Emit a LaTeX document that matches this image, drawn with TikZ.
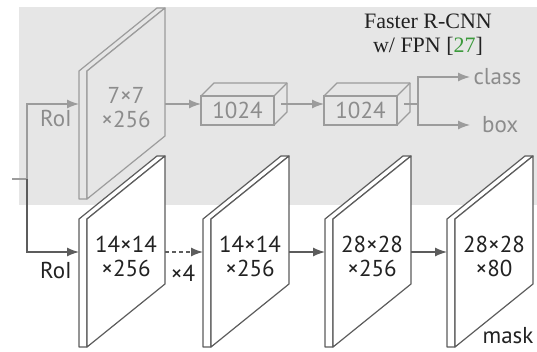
\documentclass[tikz,border=0pt]{standalone}
\usepackage{fontspec}
\setmainfont{Liberation Serif}
\setsansfont{PT Sans}
\usetikzlibrary{arrows.meta}

\definecolor{bggray}{HTML}{E6E6E6}
\definecolor{fcgray}{HTML}{9C9C9C}
\definecolor{fctext}{HTML}{8C8C8C}
\definecolor{maskline}{HTML}{5C5C5C}
\definecolor{masktext}{HTML}{222222}
\definecolor{citegreen}{HTML}{3C9A3C}

\tikzset{
  lbl/.style={font=\sffamily\fontsize{23}{24}\selectfont, align=center},
  fctxt/.style={lbl, text=fctext},
  masktxt/.style={lbl, text=masktext},
  fcslab/.style={draw=fcgray, fill=bggray, line width=1.2pt, line join=round},
  maskslab/.style={draw=maskline, fill=white, line width=1.2pt, line join=round},
  fcline/.style={draw=fcgray, line width=1.3pt},
  fcarrow/.style={fcline, ->},
  maskarrow/.style={draw=maskline, line width=1.3pt, ->},
}

% feature map slab: name, left x, top y, slab style, text style, text
\newcommand{\featmap}[6]{%
  \draw[#4] (#2,#3+128) -- (#2-8,#3+128) -- (#2-8,#3) -- (#2+70,#3-63)
    -- (#2+78,#3-63) -- (#2,#3) -- cycle;
  \draw[#4] (#2,#3) -- (#2+78,#3-63) -- (#2+78,#3+65) -- (#2,#3+128) -- cycle;
  \node[#5] (#1) at (#2+39,#3+37) {#6};
  \coordinate (#1-in) at (#2-8,#3+33);
  \coordinate (#1-out) at (#2+78,#3+33);
}

% fc layer box: name, left x
\newcommand{\fcbox}[2]{%
  \draw[fcline] (#2,96) rectangle (#2+73,125);
  \draw[fcline, line join=round] (#2,96) -- (#2+13,83) -- (#2+86,83) -- (#2+86,112) -- (#2+73,125);
  \draw[fcline] (#2+73,96) -- (#2+86,83);
  \node[fctxt] (#1) at (#2+36.5,110.5) {1024};
  \coordinate (#1-in) at (#2,104);
  \coordinate (#1-out) at (#2+80,104);
}

\begin{document}
\begin{tikzpicture}[x={(1pt,0pt)}, y={(0pt,-1pt)}, >={Latex[length=12pt,width=9pt]}]
  \useasboundingbox (0,0) rectangle (537,351);
  \fill[bggray] (19,7) rectangle (537,205);

  % box head (Faster R-CNN)
  \featmap{roifeat}{87}{71}{fcslab}{fctxt}{7×7\\×256}
  \fcbox{fcA}{201}
  \fcbox{fcB}{324}
  \draw[fcarrow] (roifeat-out) -- (fcA-in);
  \draw[fcarrow] (fcA-out) -- (fcB-in);

  \coordinate (fork) at (418,104);
  \node[fctxt, anchor=west] (cls) at (470,77) {class};
  \node[fctxt, anchor=west, inner xsep=12pt] (bbox) at (470,125) {box};
  \draw[fcline] (fcB-out) -- (fork);
  \draw[fcarrow] (fork) |- (cls.west);
  \draw[fcarrow] (fork) |- (bbox.west);

  \node[font=\fontsize{22}{24}\selectfont, text=masktext, align=center] (title) at (428,35)
    {Faster R-CNN\\w/ FPN [\textcolor{citegreen}{27}]};

  % RoI input
  \coordinate (feat) at (12,179);
  \coordinate (split) at (27,179);
  \draw[fcline] (feat) -- (split);
  \draw[fcarrow] (split) |- (roifeat-in);
  \node[fctxt] (roiA) at (56,118) {RoI};

  % mask head
  \featmap{maskA}{87}{219}{maskslab}{masktxt}{14×14\\×256}
  \featmap{maskB}{211}{219}{maskslab}{masktxt}{14×14\\×256}
  \featmap{maskC}{333}{219}{maskslab}{masktxt}{28×28\\×256}
  \featmap{maskD}{455}{219}{maskslab}{masktxt}{28×28\\×80}
  \draw[maskarrow] (split) |- (maskA-in);
  \draw[maskarrow, dash pattern=on 4pt off 3pt] (maskA-out) -- (maskB-in);
  \draw[maskarrow] (maskB-out) -- (maskC-in);
  \draw[maskarrow] (maskC-out) -- (maskD-in);
  \node[masktxt] (roiB) at (56,270) {RoI};
  \node[masktxt] (rep) at (183,273) {×4};
  \node[masktxt] (mask) at (508,336) {mask};
\end{tikzpicture}
\end{document}
